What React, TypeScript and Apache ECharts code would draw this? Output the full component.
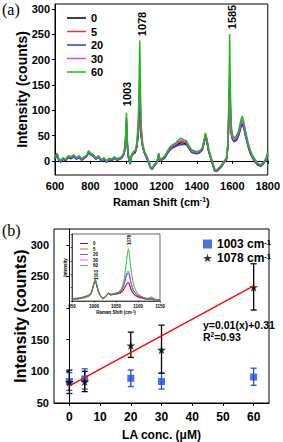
import React, { useEffect, useRef } from 'react';
import * as echarts from 'echarts';

const FONT = '"Liberation Sans", Arial, Helvetica, sans-serif';

// ---------- Panel (a): Raman spectra ----------
const wavenumbers = [
  600, 612, 620, 632, 645, 660, 675, 690, 705, 720,
  735, 750, 765, 780, 790, 800, 815, 830, 845, 860,
  875, 890, 905, 920, 935, 950, 965, 980, 990, 997,
  1003, 1009, 1016, 1024, 1032, 1042, 1052, 1062, 1070, 1075,
  1078, 1081, 1086, 1094, 1104, 1116, 1128, 1140, 1148, 1158,
  1170, 1180, 1185, 1192, 1205, 1220, 1235, 1250, 1265, 1280,
  1295, 1310, 1325, 1340, 1355, 1370, 1385, 1400, 1415, 1430,
  1440, 1448, 1456, 1466, 1478, 1490, 1500, 1512, 1525, 1540,
  1555, 1567, 1576, 1582, 1585, 1588, 1594, 1602, 1612, 1624,
  1636, 1648, 1656, 1664, 1674, 1686, 1700, 1715, 1730, 1745,
  1760, 1775, 1790, 1800,
];
const spec0 = [
  5, 12, 3, -2, 4, 2, 7, 5, 9, 4,
  7, 2, 6, 10, 18, 13, 10, 4, 8, 0,
  4, -2, 3, 1, 6, 2, 4, 8, 15, 30,
  70, 25, 3, -6, 10, 15, 17, 28, 55, 90,
  100, 85, 50, 28, 16, 7, -3, -14, -16, -10,
  -5, 3, 12, 0, 3, 7, 16, 23, 28, 30,
  33, 36, 35, 34, 26, 18, 16, 15, 17, 22,
  35, 48, 40, 20, 6, -8, -18, -19, -15, -10,
  -2, 3, 30, 110, 140, 105, 55, 42, 38, 42,
  52, 68, 75, 68, 52, 34, 17, 6, -2, -8,
  -10, -5, 2, 12,
];
const spec5 = [
  6, 13, 4, -1, 5, 1, 8, 6, 10, 5,
  8, 3, 7, 11, 19, 14, 11, 5, 9, 1,
  5, -1, 4, 2, 7, 3, 5, 9, 16, 32,
  75, 27, 4, -4, 11, 16, 18, 30, 55, 82,
  88, 75, 48, 29, 17, 8, -2, -13, -15, -9,
  -4, 4, 13, 1, 4, 8, 17, 25, 29, 32,
  36, 38, 37, 36, 28, 20, 18, 16, 18, 23,
  36, 50, 42, 22, 8, -6, -16, -18, -14, -9,
  -1, 4, 32, 90, 115, 90, 52, 44, 40, 44,
  54, 70, 78, 70, 54, 36, 19, 8, 0, -6,
  -9, -4, 3, 14,
];
const spec20 = [
  4, 11, 2, -3, 3, 0, 6, 4, 8, 3,
  6, 1, 5, 9, 17, 12, 9, 3, 7, -1,
  3, -3, 2, 0, 5, 1, 3, 7, 14, 33,
  80, 26, 2, -7, 9, 14, 16, 28, 65, 115,
  130, 110, 58, 30, 16, 6, -4, -15, -17, -11,
  -6, 2, 11, -1, 2, 6, 15, 22, 26, 28,
  31, 32, 33, 32, 25, 17, 15, 14, 16, 21,
  34, 47, 40, 20, 5, -9, -20, -21, -17, -11,
  -3, 2, 35, 130, 166, 120, 60, 42, 38, 41,
  50, 65, 72, 66, 50, 32, 16, 5, -3, -9,
  -11, -6, 1, 12,
];
const spec30 = [
  7, 14, 4, 0, 5, 2, 9, 7, 11, 5,
  9, 3, 7, 11, 19, 14, 11, 5, 9, 1,
  5, -1, 4, 2, 7, 3, 5, 9, 17, 36,
  85, 28, 4, -5, 11, 17, 19, 32, 70, 125,
  143, 120, 62, 32, 18, 9, -1, -13, -16, -9,
  -4, 4, 14, 1, 4, 9, 18, 26, 30, 33,
  37, 40, 39, 37, 28, 20, 18, 17, 19, 24,
  37, 51, 43, 23, 8, -6, -17, -19, -14, -8,
  -1, 4, 34, 110, 128, 105, 58, 46, 41, 46,
  56, 73, 80, 72, 55, 37, 20, 8, 0, -6,
  -9, -4, 3, 15,
];
const spec60 = [
  8, 15, 5, 0, 6, 3, 10, 8, 12, 6,
  10, 4, 8, 12, 20, 15, 12, 6, 10, 2,
  6, 0, 5, 3, 8, 4, 6, 10, 18, 40,
  95, 30, 5, -5, 12, 18, 20, 35, 80, 170,
  238, 160, 70, 35, 20, 10, 0, -12, -15, -8,
  -3, 5, 15, 2, 5, 10, 20, 28, 32, 35,
  40, 45, 42, 40, 30, 22, 20, 18, 20, 25,
  40, 55, 45, 25, 10, -5, -18, -20, -15, -8,
  0, 5, 40, 150, 250, 160, 70, 50, 45, 50,
  60, 80, 88, 78, 60, 40, 22, 10, 2, -5,
  -8, -3, 5, 18,
];
const specNames = ['0', '5', '20', '30', '60'];
const specColors = ['#000000', '#ff2a2a', '#2b3fd6', '#e040e8', '#1fb51f'];
const spectraA = [spec0, spec5, spec20, spec30, spec60];
const ticksA_Y = [0, 50, 100, 150, 200, 250, 300];

// ---------- Inset ----------
const insetWn = [
  950, 960, 970, 980, 990, 995, 1000, 1003, 1006, 1010,
  1015, 1020, 1025, 1030, 1033, 1038, 1045, 1055, 1062, 1068,
  1072, 1076, 1078, 1080, 1084, 1090, 1098, 1108, 1118, 1125,
  1130, 1135, 1142, 1150,
];
const inset0 = [3, 3, 4, 6, 8, 14, 26, 30, 24, 14, 7, 4, 6, 9, 11, 9, 10, 11, 13, 18, 23, 27, 28, 26, 18, 11, 7, 5, 3, 3, 3, 2, 2, 2];
const inset5 = [3, 3, 4, 5, 8, 13, 25, 29, 23, 13, 7, 3, 5, 9, 11, 9, 10, 11, 12, 17, 22, 26, 27, 25, 17, 10, 6, 4, 3, 2, 3, 2, 2, 2];
const inset20 = [4, 4, 5, 7, 10, 15, 27, 31, 25, 15, 8, 4, 6, 10, 12, 10, 11, 12, 15, 24, 34, 41, 42, 39, 27, 15, 9, 6, 4, 4, 6, 4, 2, 2];
const inset30 = [3, 4, 5, 6, 9, 14, 27, 31, 25, 14, 8, 4, 6, 10, 12, 10, 11, 13, 16, 26, 37, 44, 45, 42, 29, 16, 9, 6, 4, 3, 4, 3, 2, 2];
const inset60 = [3, 4, 5, 6, 9, 15, 27, 32, 26, 15, 8, 4, 6, 10, 12, 10, 11, 13, 18, 30, 50, 70, 78, 71, 48, 25, 12, 7, 4, 3, 4, 3, 2, 2];
const insetSpectra = [inset0, inset5, inset20, inset30, inset60];

// ---------- Panel (b) ----------
const conc = [0, 5, 20, 30, 60];
const int1003 = [84, 88, 89, 84, 91];
const low1003 = [70, 72, 76, 72, 78];
const high1003 = [98, 104, 102, 97, 105];
const int1078 = [83, 84, 141, 134, 233];
const low1078 = [65, 68, 122, 97, 197];
const high1078 = [102, 100, 162, 173, 270];
const fitX = [0, 60];
const fitY = [77, 235];
const ticksB_X = [0, 10, 20, 30, 40, 50, 60];
const ticksB_Y = [50, 100, 150, 200, 250, 300];

const STAR = 'path://M50,0 L61,35 L98,35 L68,57 L79,91 L50,70 L21,91 L32,57 L2,35 L39,35 Z';
const BLUE = '#1f4fe6';
const plain = (v: number) => String(v);

const lbl = (size: number, extra: any = {}) => ({
  color: '#000', fontWeight: 'bold', fontSize: size, fontFamily: FONT, ...extra,
});

const supRich = (base: number, sup: number) => ({
  a: lbl(base),
  s: lbl(sup, { verticalAlign: 'top' }),
});

const errorBar = (color: string, xi: number, yi: number, lows: number[], highs: number[]) => ({
  type: 'custom',
  xAxisIndex: xi,
  yAxisIndex: yi,
  silent: true,
  data: conc.map((c, i) => [c, lows[i], highs[i]]),
  encode: { x: 0, y: [1, 2] },
  renderItem: (_p: any, api: any) => {
    const x = api.value(0);
    const top = api.coord([x, api.value(2)]);
    const bot = api.coord([x, api.value(1)]);
    const w = 3;
    const style = { stroke: color, lineWidth: 1.3 };
    return {
      type: 'group',
      children: [
        { type: 'line', shape: { x1: top[0], y1: top[1], x2: bot[0], y2: bot[1] }, style },
        { type: 'line', shape: { x1: top[0] - w, y1: top[1], x2: top[0] + w, y2: top[1] }, style },
        { type: 'line', shape: { x1: bot[0] - w, y1: bot[1], x2: bot[0] + w, y2: bot[1] }, style },
      ],
    };
  },
});

function buildOption() {
  const axisLine = { show: true, lineStyle: { color: '#000', width: 1 } };
  const series: any[] = [];

  spectraA.forEach((arr, k) => {
    series.push({
      type: 'line', name: specNames[k], xAxisIndex: 0, yAxisIndex: 0,
      data: wavenumbers.map((w, i) => [w, arr[i]]),
      showSymbol: false, symbol: 'none',
      lineStyle: { color: specColors[k], width: 1.5 }, itemStyle: { color: specColors[k] },
      z: 2 + k,
    });
  });

  series.push({
    type: 'line', name: 'fit', xAxisIndex: 1, yAxisIndex: 1,
    data: fitX.map((x, i) => [x, fitY[i]]),
    showSymbol: false, symbol: 'none',
    lineStyle: { color: '#ff0000', width: 1.3 },
  });
  series.push(errorBar(BLUE, 1, 1, low1003, high1003));
  series.push({
    type: 'scatter', name: '1003', xAxisIndex: 1, yAxisIndex: 1,
    data: conc.map((c, i) => [c, int1003[i]]),
    symbol: 'rect', symbolSize: 7, itemStyle: { color: BLUE },
  });
  series.push(errorBar('#000', 1, 1, low1078, high1078));
  series.push({
    type: 'scatter', name: '1078', xAxisIndex: 1, yAxisIndex: 1,
    data: conc.map((c, i) => [c, int1078[i]]),
    symbol: STAR, symbolSize: 9, itemStyle: { color: '#000' },
  });

  insetSpectra.forEach((arr, k) => {
    series.push({
      type: 'line', name: specNames[k], xAxisIndex: 2, yAxisIndex: 2,
      data: insetWn.map((w, i) => [w, arr[i]]),
      showSymbol: false, symbol: 'none', smooth: 0.3,
      lineStyle: { color: specColors[k], width: 0.9 }, itemStyle: { color: specColors[k] },
      z: 10 + k,
    });
  });

  return {
    animation: false,
    backgroundColor: '#fff',
    textStyle: { fontFamily: FONT },
    grid: [
      { left: 55, top: 4, width: 214, height: 171, show: true, borderColor: '#000', borderWidth: 1, backgroundColor: 'transparent' },
      { left: 54, top: 229, width: 215, height: 174, show: true, borderColor: '#000', borderWidth: 1, backgroundColor: 'transparent' },
      { left: 72, top: 234, width: 88, height: 67, show: true, borderColor: '#000', borderWidth: 0.6, backgroundColor: '#fff', z: 5 },
    ],
    xAxis: [
      {
        gridIndex: 0, type: 'value', min: 600, max: 1800, interval: 200,
        splitLine: { show: false }, axisLine,
        axisTick: { length: 3, lineStyle: { color: '#000' } },
        axisLabel: { margin: 5, formatter: plain, ...lbl(11) },
        name: '{a|Raman Shift (cm}{s|-1}{a|)}', nameLocation: 'middle', nameGap: 21,
        nameMoveOverlap: false,
        nameTextStyle: { rich: supRich(11, 7) },
      },
      {
        gridIndex: 1, type: 'value', min: -5, max: 65,
        splitLine: { show: false }, axisLine,
        axisTick: { length: 3, customValues: ticksB_X, lineStyle: { color: '#000' } },
        axisLabel: { margin: 8, customValues: ticksB_X, formatter: plain, ...lbl(12) },
        name: 'LA conc. (μM)', nameLocation: 'middle', nameGap: 26,
        nameMoveOverlap: false,
        nameTextStyle: lbl(12),
      },
      {
        gridIndex: 2, type: 'value', min: 950, max: 1150, interval: 50,
        splitLine: { show: false }, axisLine: { show: true, lineStyle: { color: '#000', width: 0.6 } },
        axisTick: { length: 1.5, lineStyle: { color: '#000', width: 0.6 } },
        axisLabel: { margin: 3, formatter: plain, ...lbl(4.5) },
        name: '{a|Raman Shift (cm}{s|-1}{a|)}', nameLocation: 'middle', nameGap: 9,
        nameMoveOverlap: false,
        nameTextStyle: { rich: supRich(4.5, 3) },
        z: 6,
      },
    ],
    yAxis: [
      {
        gridIndex: 0, type: 'value', min: -28, max: 310,
        splitLine: { show: false }, axisLine,
        axisTick: { length: 3, customValues: ticksA_Y, lineStyle: { color: '#000' } },
        axisLabel: { margin: 5, customValues: ticksA_Y, formatter: plain, ...lbl(11) },
        name: 'Intensity (counts)', nameLocation: 'middle', nameGap: 26,
        nameMoveOverlap: false,
        nameTextStyle: lbl(14),
      },
      {
        gridIndex: 1, type: 'value', min: 50, max: 325,
        splitLine: { show: false }, axisLine,
        axisTick: { length: 3, customValues: ticksB_Y, lineStyle: { color: '#000' } },
        axisLabel: { margin: 5, customValues: ticksB_Y, formatter: plain, ...lbl(11) },
        name: 'Intensity (counts)', nameLocation: 'middle', nameGap: 26,
        nameMoveOverlap: false,
        nameTextStyle: lbl(16),
      },
      {
        gridIndex: 2, type: 'value', min: 0, max: 100,
        splitLine: { show: false }, axisLine: { show: true, lineStyle: { color: '#000', width: 0.6 } },
        axisTick: { length: 1.5, lineStyle: { color: '#000', width: 0.6 } },
        axisLabel: { show: false },
        name: 'Intensity', nameLocation: 'middle', nameGap: 4,
        nameMoveOverlap: false,
        nameTextStyle: lbl(4.5),
        z: 6,
      },
    ],
    legend: [
      {
        data: specNames, orient: 'vertical', left: 62, top: 7,
        icon: 'rect', itemWidth: 19, itemHeight: 1.5, itemGap: 1.5,
        textStyle: lbl(11, { lineHeight: 12 }),
        selectedMode: false,
      },
      {
        data: ['1003', '1078'], orient: 'vertical', left: 198, top: 233,
        itemWidth: 9, itemHeight: 9, itemGap: 2,
        textStyle: { rich: supRich(12, 7.5) },
        formatter: (n: string) => `{a|${n} cm}{s|-1}`,
        selectedMode: false,
      },
      {
        data: specNames, orient: 'vertical', left: 75, top: 236,
        icon: 'rect', itemWidth: 8, itemHeight: 0.8, itemGap: 0.5,
        textStyle: lbl(4.5, { lineHeight: 4.5 }),
        selectedMode: false,
        z: 20,
      },
    ],
    graphic: [
      { type: 'text', left: 2, top: 1, style: { text: '(a)', fill: '#000', fontSize: 16, fontFamily: '"Liberation Serif", "Times New Roman", serif' } },
      { type: 'text', left: 2, top: 222, style: { text: '(b)', fill: '#000', fontSize: 16, fontFamily: '"Liberation Serif", "Times New Roman", serif' } },
      { type: 'text', x: 127, y: 94, rotation: Math.PI / 2, style: { text: '1003', fill: '#000', fontSize: 11, fontWeight: 'bold', fontFamily: FONT, align: 'center', verticalAlign: 'middle' } },
      { type: 'text', x: 142, y: 24, rotation: Math.PI / 2, style: { text: '1078', fill: '#000', fontSize: 11, fontWeight: 'bold', fontFamily: FONT, align: 'center', verticalAlign: 'middle' } },
      { type: 'text', x: 232, y: 17, rotation: Math.PI / 2, style: { text: '1585', fill: '#000', fontSize: 11, fontWeight: 'bold', fontFamily: FONT, align: 'center', verticalAlign: 'middle' } },
      { type: 'text', x: 96, y: 275, z: 30, rotation: Math.PI / 2, style: { text: '1003', fill: '#000', fontSize: 4.5, fontWeight: 'bold', fontFamily: FONT, align: 'center', verticalAlign: 'middle' } },
      { type: 'text', x: 129, y: 240, z: 30, rotation: Math.PI / 2, style: { text: '1078', fill: '#000', fontSize: 4.5, fontWeight: 'bold', fontFamily: FONT, align: 'center', verticalAlign: 'middle' } },
      { type: 'text', left: 203, top: 319, style: { text: 'y=0.01(x)+0.31', fill: '#000', fontSize: 10.5, fontWeight: 'bold', fontFamily: FONT } },
      { type: 'text', left: 203, top: 331, style: { text: '{a|R}{s|2}{a|=0.93}', rich: supRich(10.5, 6.5), fill: '#000' } },
    ],
    series,
  };
}

export default function App() {
  const ref = useRef<HTMLDivElement>(null);
  useEffect(() => {
    if (!ref.current) return;
    const chart = echarts.init(ref.current, undefined, { renderer: 'svg' });
    chart.setOption(buildOption() as any);
    return () => chart.dispose();
  }, []);
  return (
    <div
      ref={ref}
      style={{ position: 'absolute', left: 0, top: 0, width: 283, height: 442, background: '#fff' }}
    />
  );
}
